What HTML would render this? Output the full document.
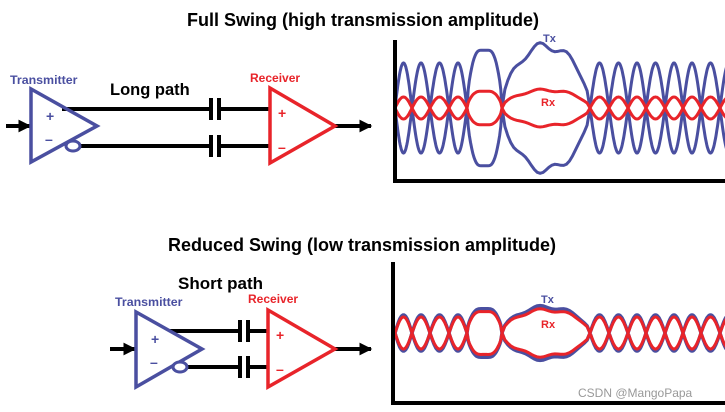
<!DOCTYPE html>
<html><head><meta charset="utf-8"><style>
body{margin:0;background:#fff;width:725px;height:412px;overflow:hidden}
svg{display:block}
text{font-family:"Liberation Sans",Arial,sans-serif;font-weight:bold}
</style></head><body>
<svg id="s" width="725" height="412" viewBox="0 0 725 412">
<defs><marker id="ar" viewBox="0 0 10 10" refX="9" refY="5" markerWidth="3.2" markerHeight="3.2" orient="auto"><path d="M0,0L10,5L0,10z" fill="#000"/></marker></defs>
<text x="363" y="26" font-size="18" text-anchor="middle">Full Swing (high transmission amplitude)</text>
<text x="362" y="251" font-size="18" text-anchor="middle">Reduced Swing (low transmission amplitude)</text>

<!-- top circuit -->
<g stroke="#000" stroke-width="4" fill="none">
<line x1="6" y1="126" x2="30" y2="126" marker-end="url(#ar)"/>
<line x1="62" y1="109" x2="211" y2="109"/><line x1="219" y1="109" x2="270" y2="109"/>
<line x1="80" y1="146" x2="211" y2="146"/><line x1="219" y1="146" x2="270" y2="146"/>
<line x1="211" y1="98" x2="211" y2="120"/><line x1="219" y1="98" x2="219" y2="120"/>
<line x1="211" y1="135" x2="211" y2="157"/><line x1="219" y1="135" x2="219" y2="157"/>
<line x1="335" y1="126" x2="371" y2="126" marker-end="url(#ar)"/>
</g>
<polygon points="31,89 31,162 97,126" fill="none" stroke="#4a4fa0" stroke-width="3.5"/>
<ellipse cx="73" cy="146" rx="7" ry="5" fill="#fff" stroke="#4a4fa0" stroke-width="3"/>
<polygon points="270,88 270,163 335,126" fill="none" stroke="#e8242a" stroke-width="3.5"/>
<text x="46" y="121" font-size="14" fill="#4a4fa0">+</text>
<text x="45" y="144" font-size="14" fill="#4a4fa0">–</text>
<text x="278" y="118" font-size="14" fill="#e8242a">+</text>
<text x="278" y="152" font-size="14" fill="#e8242a">–</text>
<text x="10" y="84" font-size="12.4" fill="#4a4fa0">Transmitter</text>
<text x="110" y="95" font-size="16.5">Long path</text>
<text x="250" y="82" font-size="12" fill="#e8242a">Receiver</text>

<!-- bottom circuit -->
<g stroke="#000" stroke-width="4" fill="none">
<line x1="110" y1="349" x2="135" y2="349" marker-end="url(#ar)"/>
<line x1="170" y1="331" x2="240" y2="331"/><line x1="248" y1="331" x2="268" y2="331"/>
<line x1="187" y1="367" x2="240" y2="367"/><line x1="248" y1="367" x2="268" y2="367"/>
<line x1="240" y1="320" x2="240" y2="342"/><line x1="248" y1="320" x2="248" y2="342"/>
<line x1="240" y1="356" x2="240" y2="378"/><line x1="248" y1="356" x2="248" y2="378"/>
<line x1="335" y1="349" x2="371" y2="349" marker-end="url(#ar)"/>
</g>
<polygon points="136,312 136,387 202,349" fill="none" stroke="#4a4fa0" stroke-width="3.5"/>
<ellipse cx="180" cy="367" rx="7" ry="5" fill="#fff" stroke="#4a4fa0" stroke-width="3"/>
<polygon points="268,310 268,387 335,349" fill="none" stroke="#e8242a" stroke-width="3.5"/>
<text x="151" y="344" font-size="14" fill="#4a4fa0">+</text>
<text x="150" y="367" font-size="14" fill="#4a4fa0">–</text>
<text x="276" y="340" font-size="14" fill="#e8242a">+</text>
<text x="276" y="374" font-size="14" fill="#e8242a">–</text>
<text x="115" y="306" font-size="12.4" fill="#4a4fa0">Transmitter</text>
<text x="178" y="289" font-size="17">Short path</text>
<text x="248" y="303" font-size="12" fill="#e8242a">Receiver</text>

<!-- axes -->
<g stroke="#000" stroke-width="4">
<line x1="395" y1="40" x2="395" y2="183"/><line x1="393" y1="181" x2="725" y2="181"/>
<line x1="393" y1="262" x2="393" y2="405"/><line x1="391" y1="403" x2="725" y2="403"/>
</g>
<g id="w"></g>
<text x="543" y="42" font-size="11" fill="#4a4fa0">Tx</text>
<text x="541" y="106" font-size="11" fill="#e8242a">Rx</text>
<text x="541" y="303" font-size="11" fill="#4a4fa0">Tx</text>
<text x="541" y="328" font-size="11" fill="#e8242a">Rx</text>
<text x="578" y="397" font-size="12" fill="#999" style="font-weight:normal">CSDN @MangoPapa</text>
</svg>
<script>
var X=[380,395,412,430,449,467,502,590,609,628,646,665,683,701,720,738];
function wave(c,As,Al,col,w,clipL){
 var top='',bot='';
 for(var i=0;i<X.length-1;i++){
  var a=X[i],b=X[i+1],L=b-a,long=L>25,A=long?Al:As;
  for(var k=0;k<=30;k++){
   var t=k/30,x=a+L*t;
   var e=long?Math.pow(Math.sin(Math.PI*t),0.55):Math.sin(Math.PI*t);
   if(long) e*=1+0.07*Math.sin(t*Math.PI*(L>60?6:3));
   var y1=c-A*e,y2=c+A*e;
   top+=(i==0&&k==0?'M':'L')+x.toFixed(1)+','+y1.toFixed(1);
   bot+=(i==0&&k==0?'M':'L')+x.toFixed(1)+','+y2.toFixed(1);
  }
 }
 return '<path d="'+top+bot+'" fill="none" stroke="'+col+'" stroke-width="'+w+'" clip-path="url(#'+clipL+')"/>';
}
var g=document.getElementById('w');
g.innerHTML='<clipPath id="c1"><rect x="397" y="30" width="330" height="150"/></clipPath><clipPath id="c2"><rect x="395" y="255" width="330" height="146"/></clipPath>'
+wave(108,45,62,'#4a4fa0',3,'c1')+wave(108,11,18,'#e8242a',3,'c1')
+wave(333,18,26,'#4a4fa0',3.5,'c2')+wave(333,16,23,'#e8242a',3,'c2');
</script>
</body></html>
